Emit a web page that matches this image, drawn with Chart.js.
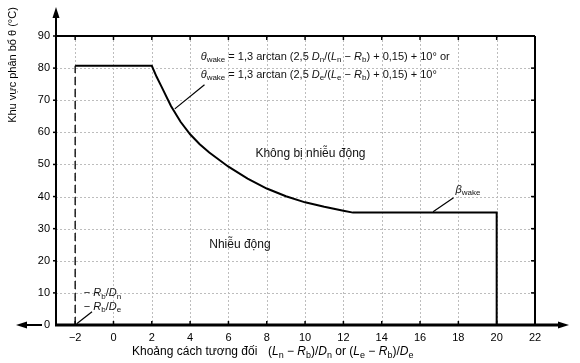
<!DOCTYPE html>
<html><head><meta charset="utf-8">
<script src="https://cdn.jsdelivr.net/npm/chart.js@4.4.0/dist/chart.umd.min.js"></script>
<style>html,body{margin:0;padding:0;background:#fff}#wrap{width:580px;height:363px;position:relative}</style>
</head><body><div id="wrap"><canvas id="c"></canvas></div>
<script>
// ---- data ----
const curveX = [-2, 2, 2.25, 2.5, 3, 3.5, 4, 4.5, 5, 6, 7, 8, 9, 10, 11, 12, 12.5, 20, 20];
const curveY = [80.7, 80.7, 77.3, 74.3, 68.2, 63.3, 59.4, 56.3, 53.7, 49.3, 45.6, 42.5, 40.1, 38.2, 36.8, 35.6, 35.0, 35.0, 0];
const dashX = [-2, -2];
const dashY = [0, 80.7];
const xRange = [-3, 22];
const yRange = [0, 90];
const xStep = 2;
const yStep = 10;
const yAxisTitle = 'Khu vực phân bổ θ (°C)';
const xAxisTitle = 'Khoảng cách tương đối';
const upperLabel = 'Không bị nhiễu động';
const lowerLabel = 'Nhiễu động';

const FONT = '"Liberation Sans", Arial, sans-serif';

function runs(ctx, parts, x, y, size, align) {
  const subSize = Math.round(size * 0.72);
  const fontFor = f => (f.includes('i') ? 'italic ' : '') + (f.includes('s') ? subSize : size) + 'px ' + FONT;
  let w = 0;
  parts.forEach(([t, f]) => { ctx.font = fontFor(f); w += ctx.measureText(t).width; });
  let cx = align === 'center' ? x - w / 2 : x;
  ctx.textBaseline = 'middle';
  ctx.textAlign = 'left';
  parts.forEach(([t, f]) => {
    ctx.font = fontFor(f);
    const dy = f.includes('s') ? size * 0.32 : 0;
    ctx.fillText(t, cx, y + dy);
    cx += ctx.measureText(t).width;
  });
  return w;
}

function arrowHead(ctx, tipX, tipY, dir, len, half) {
  ctx.beginPath();
  if (dir === 'up') { ctx.moveTo(tipX, tipY); ctx.lineTo(tipX - half, tipY + len); ctx.lineTo(tipX + half, tipY + len); }
  if (dir === 'left') { ctx.moveTo(tipX, tipY); ctx.lineTo(tipX + len, tipY - half); ctx.lineTo(tipX + len, tipY + half); }
  if (dir === 'right') { ctx.moveTo(tipX, tipY); ctx.lineTo(tipX - len, tipY - half); ctx.lineTo(tipX - len, tipY + half); }
  ctx.closePath(); ctx.fill();
}

const decor = {
  id: 'decor',
  beforeDatasetsDraw(chart) {
    const {ctx, chartArea: a, scales: {x, y}} = chart;
    ctx.save();
    ctx.strokeStyle = '#bdbdbd';
    ctx.lineWidth = 1;
    ctx.setLineDash([2, 2]);
    x.ticks.forEach(t => {
      if (t.value <= xRange[0] || t.value >= xRange[1]) return;
      const px = Math.round(x.getPixelForValue(t.value)) + 0.5;
      ctx.beginPath(); ctx.moveTo(px, a.top); ctx.lineTo(px, a.bottom); ctx.stroke();
    });
    y.ticks.forEach(t => {
      if (t.value <= yRange[0] || t.value >= yRange[1]) return;
      const py = Math.round(y.getPixelForValue(t.value)) + 0.5;
      ctx.beginPath(); ctx.moveTo(a.left, py); ctx.lineTo(a.right, py); ctx.stroke();
    });
    ctx.restore();
  },
  afterDatasetsDraw(chart) {
    const {ctx, chartArea: a, scales: {x, y}} = chart;
    const X = v => x.getPixelForValue(v), Y = v => y.getPixelForValue(v);
    ctx.save();
    ctx.strokeStyle = '#000'; ctx.fillStyle = '#000';
    ctx.setLineDash([]);
    // frame
    ctx.lineWidth = 2;
    ctx.beginPath(); ctx.moveTo(a.left, a.top); ctx.lineTo(a.right, a.top); ctx.stroke();
    ctx.beginPath(); ctx.moveTo(a.right, a.top); ctx.lineTo(a.right, a.bottom); ctx.stroke();
    ctx.beginPath(); ctx.moveTo(a.left, a.bottom); ctx.lineTo(a.left, 17); ctx.stroke();
    ctx.lineWidth = 3;
    ctx.beginPath(); ctx.moveTo(a.left - 1, a.bottom); ctx.lineTo(a.right + 26, a.bottom); ctx.stroke();
    ctx.lineWidth = 2;
    ctx.beginPath(); ctx.moveTo(42, a.bottom); ctx.lineTo(26, a.bottom); ctx.stroke();
    arrowHead(ctx, a.left, 7, 'up', 11, 3.5);
    arrowHead(ctx, 16, a.bottom, 'left', 11, 3.5);
    arrowHead(ctx, a.right + 34, a.bottom, 'right', 11, 3.5);
    // inner ticks
    ctx.lineWidth = 1.5;
    x.ticks.forEach(t => {
      const px = X(t.value);
      ctx.beginPath(); ctx.moveTo(px, a.top); ctx.lineTo(px, a.top + 4); ctx.stroke();
      ctx.beginPath(); ctx.moveTo(px, a.bottom); ctx.lineTo(px, a.bottom - 4); ctx.stroke();
    });
    y.ticks.forEach(t => {
      const py = Y(t.value);
      ctx.beginPath(); ctx.moveTo(a.right, py); ctx.lineTo(a.right - 4, py); ctx.stroke();
      if (t.value > yRange[0]) { ctx.beginPath(); ctx.moveTo(a.left, py); ctx.lineTo(a.left - 3, py); ctx.stroke(); }
    });
    // leader lines
    ctx.lineWidth = 1.2;
    ctx.beginPath(); ctx.moveTo(X(3.2), Y(67.3)); ctx.lineTo(X(4.75), Y(74.8)); ctx.stroke();
    ctx.beginPath(); ctx.moveTo(X(16.68), Y(35.3)); ctx.lineTo(X(17.75), Y(39.6)); ctx.stroke();
    ctx.beginPath(); ctx.moveTo(X(-1.92), Y(0.4)); ctx.lineTo(X(-1.12), Y(4.1)); ctx.stroke();
    // formula annotation
    ctx.fillStyle = '#111';
    const f1 = [['θ', 'i'], ['wake', 's'], [' = 1,3 arctan (2,5 ', ''], ['D', 'i'], ['n', 's'], ['/(', ''], ['L', 'i'], ['n', 's'], [' − ', ''], ['R', 'i'], ['b', 's'], [') + 0,15) + 10° or', '']];
    const f2 = [['θ', 'i'], ['wake', 's'], [' = 1,3 arctan (2,5 ', ''], ['D', 'i'], ['e', 's'], ['/(', ''], ['L', 'i'], ['e', 's'], [' − ', ''], ['R', 'i'], ['b', 's'], [') + 0,15) + 10°', '']];
    runs(ctx, f1, X(4.55), Y(83.6), 11, 'left');
    runs(ctx, f2, X(4.55), Y(78.0), 11, 'left');
    // region labels
    ctx.font = '12px ' + FONT; ctx.textAlign = 'center'; ctx.textBaseline = 'middle';
    ctx.fillText(upperLabel, X(10.28), Y(53.5));
    ctx.fillText(lowerLabel, X(6.6), Y(25.0));
    // beta label
    runs(ctx, [['β', 'i'], ['wake', 's']], X(17.85), Y(42.2), 11, 'left');
    // Rb labels
    runs(ctx, [['− ', ''], ['R', 'i'], ['b', 's'], ['/', ''], ['D', 'i'], ['n', 's']], X(-1.55), Y(9.9), 11, 'left');
    runs(ctx, [['− ', ''], ['R', 'i'], ['b', 's'], ['/', ''], ['D', 'i'], ['e', 's']], X(-1.55), Y(5.7), 11, 'left');
    // axis titles
    ctx.fillStyle = '#000';
    ctx.font = '12px ' + FONT; ctx.textAlign = 'left'; ctx.textBaseline = 'middle';
    ctx.fillText(xAxisTitle, 132, 352);
    runs(ctx, [['(', ''], ['L', 'i'], ['n', 's'], [' − ', ''], ['R', 'i'], ['b', 's'], [')/', ''], ['D', 'i'], ['n', 's'], [' or (', ''], ['L', 'i'], ['e', 's'], [' − ', ''], ['R', 'i'], ['b', 's'], [')/', ''], ['D', 'i'], ['e', 's']], 268, 352, 12, 'left');
    ctx.save();
    ctx.translate(13, 65); ctx.rotate(-Math.PI / 2);
    ctx.font = '11px ' + FONT; ctx.textAlign = 'center'; ctx.textBaseline = 'middle';
    ctx.fillText(yAxisTitle, 0, 0);
    ctx.restore();
    ctx.restore();
  }
};

const toPts = (xs, ys) => xs.map((v, i) => ({x: v, y: ys[i]}));

new Chart(document.getElementById('c'), {
  type: 'scatter',
  data: {
    datasets: [
      {data: toPts(curveX, curveY), showLine: true, borderColor: '#000', borderWidth: 2, pointRadius: 0, tension: 0, fill: false},
      {data: toPts(dashX, dashY), showLine: true, borderColor: '#000', borderWidth: 1.3, borderDash: [8, 4], pointRadius: 0, fill: false}
    ]
  },
  options: {
    responsive: true, maintainAspectRatio: false, animation: false,
    layout: {padding: {left: 0, right: 45, top: 36, bottom: 0}},
    plugins: {legend: {display: false}, tooltip: {enabled: false}},
    scales: {
      x: {
        type: 'linear', min: xRange[0], max: xRange[1],
        grid: {display: false, drawTicks: false}, border: {display: false},
        ticks: {stepSize: xStep, includeBounds: false, padding: 6, color: '#000', font: {family: FONT, size: 11},
                callback: v => String(v).replace('-', '−')},
        afterFit: s => { s.height = 38; }
      },
      y: {
        min: yRange[0], max: yRange[1],
        grid: {display: false, drawTicks: false}, border: {display: false},
        ticks: {stepSize: yStep, padding: 6, color: '#000', font: {family: FONT, size: 11}},
        afterFit: s => { s.width = 56; }
      }
    }
  },
  plugins: [decor]
});
</script>
</body></html>
